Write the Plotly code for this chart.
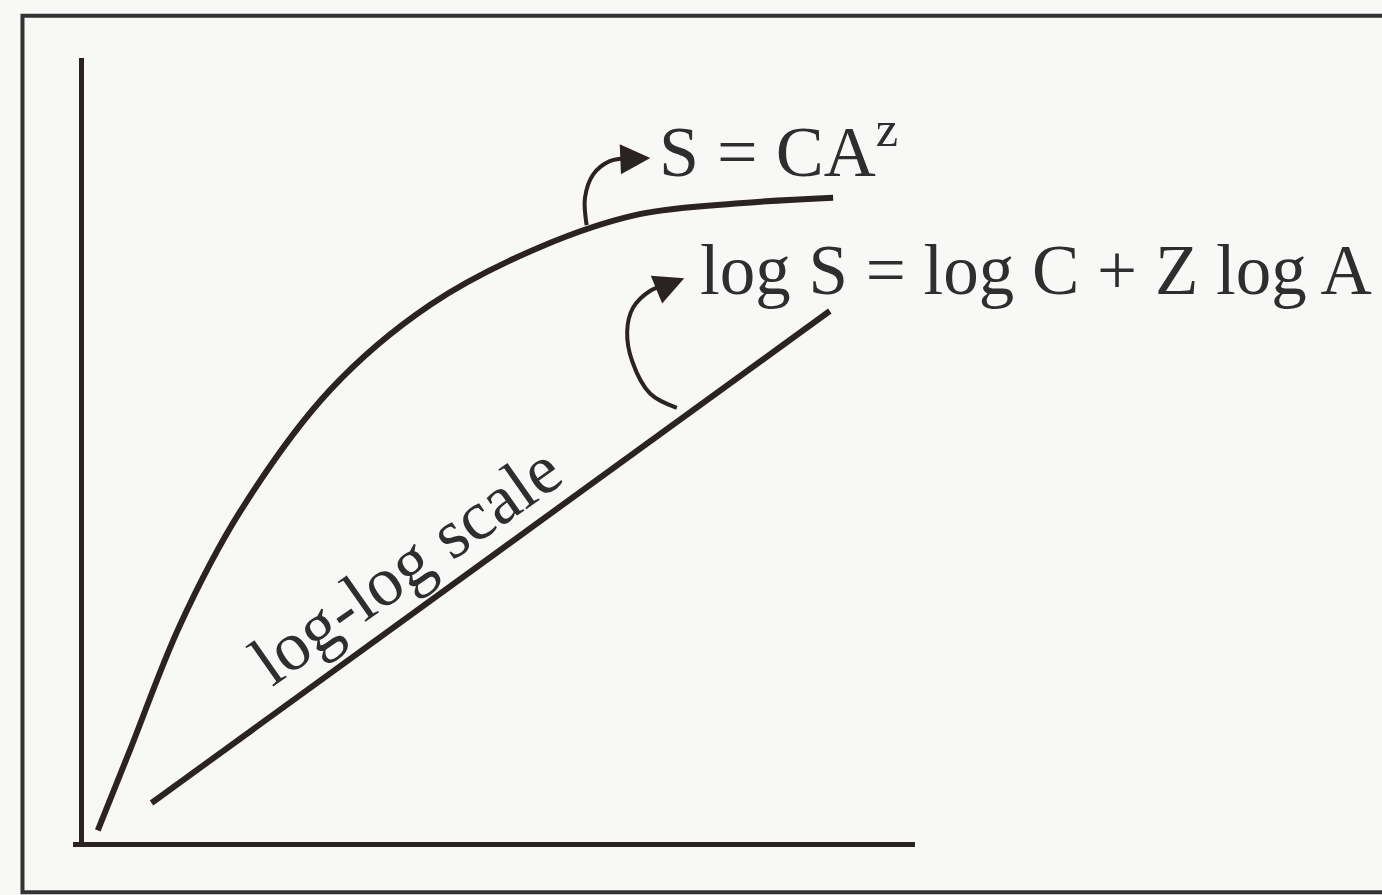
import plotly.graph_objects as go

# species-area curve, S = C A^z (arithmetic axes)
area_arith = [0.12, 0.51, 1.11, 1.84, 2.93, 4.14, 5.47, 6.67, 7.88, 9.01]
species_arith = [0.15, 1.18, 2.77, 4.23, 5.79, 6.88, 7.62, 8.04, 8.18, 8.25]

# same relation on log-log scale: a straight line
area_log = [0.77, 8.97]
species_log = [0.50, 6.80]

# curved pointer arrows from each curve to its equation
arrow1_x = [6.03, 6.01, 6.11, 6.31, 6.58]
arrow1_y = [7.90, 8.25, 8.55, 8.72, 8.76]
arrow2_x = [7.12, 6.80, 6.58, 6.52, 6.59, 6.80, 6.98]
arrow2_y = [5.56, 5.74, 6.16, 6.54, 6.84, 7.06, 7.13]

labels = ["S = CA<sup>z</sup>", "log S = log C + Z log A", "log-log scale"]

ink = "#2a2321"
txt = "#2e2e2e"
serif = "Liberation Serif, Times New Roman, serif"

fig = go.Figure()

fig.add_trace(go.Scatter(x=area_arith, y=species_arith, mode="lines",
                         line=dict(color=ink, width=6, shape="spline", smoothing=1.0),
                         hoverinfo="skip"))
fig.add_trace(go.Scatter(x=area_log, y=species_log, mode="lines",
                         line=dict(color=ink, width=6), hoverinfo="skip"))
fig.add_trace(go.Scatter(x=arrow1_x, y=arrow1_y, mode="lines",
                         line=dict(color=ink, width=4, shape="spline"),
                         hoverinfo="skip"))
fig.add_trace(go.Scatter(x=arrow2_x, y=arrow2_y, mode="lines",
                         line=dict(color=ink, width=4, shape="spline"),
                         hoverinfo="skip"))

# arrow heads
fig.add_annotation(x=6.80, y=8.76, ax=-24, ay=1, text="", showarrow=True,
                   arrowhead=2, arrowsize=1.5, arrowwidth=4, arrowcolor=ink)
fig.add_annotation(x=7.21, y=7.22, ax=-22, ay=9, text="", showarrow=True,
                   arrowhead=2, arrowsize=1.5, arrowwidth=4, arrowcolor=ink)

# equations and label
fig.add_annotation(x=6.88, y=8.91, text=labels[0], showarrow=False,
                   xanchor="left", yanchor="middle",
                   font=dict(family=serif, size=72, color=txt))
fig.add_annotation(x=7.38, y=7.33, text=labels[1], showarrow=False,
                   xanchor="left", yanchor="middle",
                   font=dict(family=serif, size=71, color=txt))
fig.add_annotation(x=3.85, y=3.55, text=labels[2], showarrow=False,
                   textangle=-35,
                   font=dict(family=serif, size=70, color=txt))

# outer frame
fig.add_shape(type="rect", xref="paper", yref="paper",
              x0=-0.06, x1=1.6, y0=-0.064, y1=1.054,
              line=dict(color="#333333", width=4))

fig.update_layout(
    width=1382, height=895,
    margin=dict(l=73, r=467, t=58, b=53),
    paper_bgcolor="#f8f8f6", plot_bgcolor="rgba(0,0,0,0)",
    showlegend=False,
    xaxis=dict(range=[-0.18, 10.0], showgrid=False, zeroline=False,
               showticklabels=False, ticks="", showline=True,
               linecolor=ink, linewidth=5, fixedrange=True),
    yaxis=dict(range=[0, 10.04], showgrid=False, zeroline=False,
               showticklabels=False, ticks="", showline=True,
               linecolor=ink, linewidth=5, anchor="free", position=0.0095,
               fixedrange=True),
)

fig.write_html("out.html", config={"displayModeBar": False},
               post_script="document.body.style.margin='0';")
